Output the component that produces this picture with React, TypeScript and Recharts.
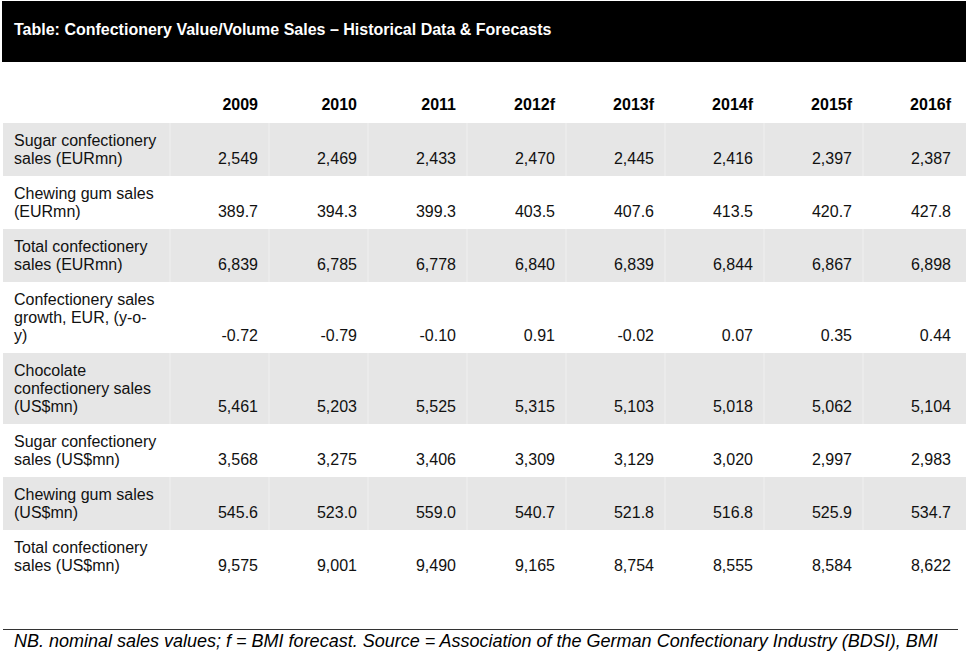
import { ScatterChart, Scatter, XAxis, YAxis, ReferenceArea } from 'recharts';

const years = ['2009', '2010', '2011', '2012f', '2013f', '2014f', '2015f', '2016f'];

const rowLabels = [
  ['Sugar confectionery', 'sales (EURmn)'],
  ['Chewing gum sales', '(EURmn)'],
  ['Total confectionery', 'sales (EURmn)'],
  ['Confectionery sales', 'growth, EUR, (y-o-', 'y)'],
  ['Chocolate', 'confectionery sales', '(US$mn)'],
  ['Sugar confectionery', 'sales (US$mn)'],
  ['Chewing gum sales', '(US$mn)'],
  ['Total confectionery', 'sales (US$mn)'],
];

const rowDecimals = [0, 1, 0, 2, 0, 0, 1, 0];

const sugarEur = [2549, 2469, 2433, 2470, 2445, 2416, 2397, 2387];
const gumEur = [389.7, 394.3, 399.3, 403.5, 407.6, 413.5, 420.7, 427.8];
const totalEur = [6839, 6785, 6778, 6840, 6839, 6844, 6867, 6898];
const growthEur = [-0.72, -0.79, -0.1, 0.91, -0.02, 0.07, 0.35, 0.44];
const chocUsd = [5461, 5203, 5525, 5315, 5103, 5018, 5062, 5104];
const sugarUsd = [3568, 3275, 3406, 3309, 3129, 3020, 2997, 2983];
const gumUsd = [545.6, 523.0, 559.0, 540.7, 521.8, 516.8, 525.9, 534.7];
const totalUsd = [9575, 9001, 9490, 9165, 8754, 8555, 8584, 8622];

const rowValues = [sugarEur, gumEur, totalEur, growthEur, chocUsd, sugarUsd, gumUsd, totalUsd];

const FONT = '"Liberation Sans", Arial, Helvetica, sans-serif';
const LINE = 18;
const PAD_TOP = 17;
const PAD_BOTTOM = 18;
const BAND = 99;

// row extents along the vertical axis, in line units
const rows = (() => {
  let top = 0;
  return rowLabels.map((lines, i) => {
    const h = PAD_TOP + LINE * (lines.length - 1) + PAD_BOTTOM;
    const r = { top, bottom: top + h, first: top + PAD_TOP, last: top + h - PAD_BOTTOM, lines, i };
    top += h;
    return r;
  });
})();
const totalHeight = rows[rows.length - 1].bottom;

const fmt = (v: number, d: number) =>
  v.toLocaleString('en-US', { minimumFractionDigits: d, maximumFractionDigits: d });

const YearTick = (p: any) => (
  <text x={p.x + BAND / 2 - 11} y={p.y} dy={-11} textAnchor="end" fontFamily={FONT}
    fontSize={16} fontWeight="bold" fill="#000">
    {p.payload.value}
  </text>
);

const LabelTick = (p: any) => {
  const row = rows.find((r) => Math.abs(r.first - p.payload.value) < 0.01);
  if (!row) return null;
  return (
    <text x={14} y={p.y} fontFamily={FONT} fontSize={16} fill="#111">
      {row.lines.map((l, k) => (
        <tspan key={k} x={14} dy={k === 0 ? 5.5 : LINE}>{l}</tspan>
      ))}
    </text>
  );
};

const CellShape = (p: any) => (
  <text x={p.cx + BAND / 2 - 11} y={p.cy} dy={5.5} textAnchor="end" fontFamily={FONT}
    fontSize={16} fill="#111">
    {fmt(p.payload.value, p.payload.decimals)}
  </text>
);

const Band = (p: any) => (
  <g>
    <rect x={3} y={p.y} width={963} height={p.height} fill="#e6e6e6" />
    {years.map((_, k) => (
      <line key={k} x1={p.x + (k * p.width) / years.length} x2={p.x + (k * p.width) / years.length}
        y1={p.y} y2={p.y + p.height} stroke="#ececec" strokeWidth={1.5} />
    ))}
  </g>
);

export default function App() {
  return (
    <div style={{ position: 'absolute', left: 0, top: 0, width: 969, height: 660, background: '#fff' }}>
      <div style={{
        position: 'absolute', left: 2, top: 1, width: 964, height: 61, background: '#000',
        color: '#fff', fontFamily: FONT, fontWeight: 'bold', fontSize: 16, lineHeight: '57px',
        paddingLeft: 12, boxSizing: 'border-box', whiteSpace: 'nowrap',
      }}>
        Table: Confectionery Value/Volume Sales – Historical Data &amp; Forecasts
      </div>
      <ScatterChart width={969} height={660} margin={{ top: 93, right: 7, bottom: 660 - 93 - 30 - totalHeight, left: 10 }}>
        <XAxis type="category" dataKey="year" xAxisId={0} orientation="top" height={30}
          allowDuplicatedCategory={false} axisLine={false} tickLine={false} tickSize={0}
          tick={<YearTick />} interval={0} />
        <YAxis type="number" dataKey="pos" domain={[0, totalHeight]} reversed width={160}
          ticks={rows.map((r) => r.first)} axisLine={false} tickLine={false}
          tick={<LabelTick />} interval={0} />
        {rows.filter((r) => r.i % 2 === 0).map((r) => (
          <ReferenceArea key={r.i} y1={r.top} y2={r.bottom} shape={<Band />} ifOverflow="visible" />
        ))}
        {rows.map((r) => (
          <Scatter key={r.i} isAnimationActive={false}
            data={years.map((y, k) => ({ year: y, pos: r.last, value: rowValues[r.i][k], decimals: rowDecimals[r.i] }))}
            shape={<CellShape />} />
        ))}
      </ScatterChart>
      <div style={{ position: 'absolute', left: 3, top: 629, width: 955, height: 1, background: '#333' }} />
      <div style={{
        position: 'absolute', left: 14, top: 631, fontFamily: FONT, fontStyle: 'italic',
        fontSize: 18, color: '#000', whiteSpace: 'nowrap', lineHeight: '20px',
      }}>
        NB. nominal sales values; f = BMI forecast. Source = Association of the German Confectionary Industry (BDSI), BMI
      </div>
    </div>
  );
}
